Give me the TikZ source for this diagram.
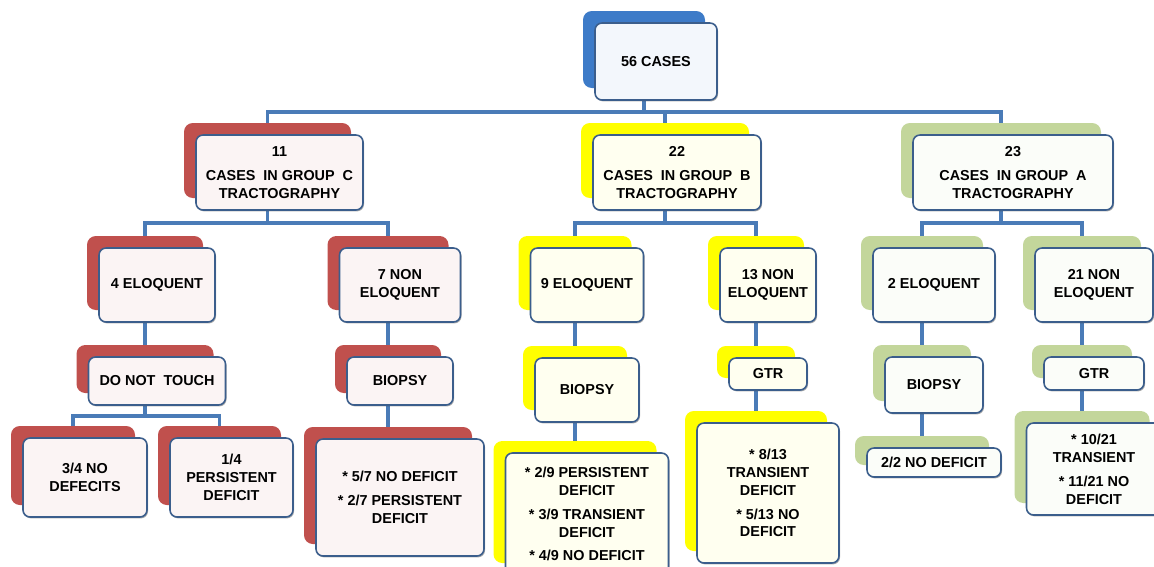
\documentclass[tikz,border=0pt]{standalone}
\usepackage{fontspec}
\setmainfont{Liberation Sans}
\usepackage{xcolor}
\usetikzlibrary{backgrounds, calc, shadows}

\definecolor{linkblue}{HTML}{4A7BB7}
\definecolor{edgeblue}{HTML}{3B5E8C}
\definecolor{grpred}{HTML}{C0504D}
\definecolor{grpyellow}{HTML}{FFFF00}
\definecolor{grpgreen}{HTML}{C3D69B}
\definecolor{grpblue}{HTML}{3D7BC8}

% coloured card behind + white card in front (sizes in px of the chart)
\newcommand{\card}[7]{%
  \node[backcard, fill=#6, minimum width=#4*0.02cm, minimum height=#5*0.02cm] (#1-b) at (#2-12,#3-12) {};
  \node[frontcard, fill=#6!6!white, minimum width=#4*0.02cm, minimum height=#5*0.02cm] (#1) at (#2,#3) {#7};
}

\begin{document}
\begin{tikzpicture}[
    x=0.02cm, y=-0.02cm,
    backcard/.style={rectangle, rounded corners=5pt, draw=none, inner sep=0pt},
    frontcard/.style={rectangle, rounded corners=4pt, draw=edgeblue, line width=0.9pt,
                      align=center, inner sep=1pt,
                      font=\fontsize{8.2}{10.2}\selectfont\bfseries,
                      drop shadow={shadow xshift=0.6pt, shadow yshift=-0.8pt, opacity=0.45, fill=black!70}},
    link/.style={line width=2.2pt, draw=linkblue}
]
\clip (0,0) rectangle (1154,566);

% top
\card{root}{656}{61.5}{122}{77}{grpblue}{56 CASES}

% groups
\card{c}{279.5}{172.5}{167}{75}{grpred}{11\\[3.4pt]CASES\ \ IN GROUP\ \ C\\TRACTOGRAPHY}
\card{b}{677}{172.5}{168}{75}{grpyellow}{22\\[3.4pt]CASES\ \ IN GROUP\ \ B\\TRACTOGRAPHY}
\card{a}{1013}{172.5}{200}{75}{grpgreen}{23\\[3.4pt]CASES\ \ IN GROUP\ \ A\\TRACTOGRAPHY}

% location
\card{c4}{157}{285}{116}{74}{grpred}{4 ELOQUENT}
\card{c7}{400}{285}{121}{74}{grpred}{7 NON\\ELOQUENT}
\card{b9}{587}{285}{113}{74}{grpyellow}{9 ELOQUENT}
\card{b13}{768}{285}{96}{74}{grpyellow}{13 NON\\ELOQUENT}
\card{a2}{934}{285}{122}{74}{grpgreen}{2 ELOQUENT}
\card{a21}{1094}{285}{118}{74}{grpgreen}{21 NON\\ELOQUENT}

% treatment
\card{c4t}{157}{381}{137}{48}{grpred}{DO NOT\ \ TOUCH}
\card{c7bi}{400}{381}{106}{48}{grpred}{BIOPSY}
\card{b9bi}{587}{390}{104}{64}{grpyellow}{BIOPSY}
\card{b13g}{768}{374}{78}{32}{grpyellow}{GTR}
\card{a2bi}{934}{385}{98}{56}{grpgreen}{BIOPSY}
\card{a21g}{1094}{373.5}{100}{33}{grpgreen}{GTR}

% outcome
\card{c4n}{85}{477.5}{124}{79}{grpred}{3/4 NO\\DEFECITS}
\card{c4p}{231.5}{477.5}{123}{79}{grpred}{1/4\\PERSISTENT\\DEFICIT}
\card{c7r}{400}{497.5}{168}{117}{grpred}{* 5/7 NO DEFICIT\\[3.4pt]* 2/7 PERSISTENT\\DEFICIT}
\card{b9r}{587}{514}{163}{122}{grpyellow}{* 2/9 PERSISTENT\\DEFICIT\\[3.4pt]* 3/9 TRANSIENT\\DEFICIT\\[3.4pt]* 4/9 NO DEFICIT}
\card{b13r}{768}{493}{142}{140}{grpyellow}{* 8/13\\TRANSIENT\\DEFICIT\\[3.4pt]* 5/13 NO\\DEFICIT}
\card{a2r}{934}{462.5}{134}{29}{grpgreen}{2/2 NO DEFICIT}
\card{a21r}{1094}{469}{135}{92}{grpgreen}{* 10/21\\TRANSIENT\\[3.4pt]* 11/21 NO\\DEFICIT}

% connectors
\begin{scope}[on background layer]
\foreach \p/\c in {root/c, root/b, root/a, c/c4, c/c7, b/b9, b/b13, a/a2, a/a21,
                   c4/c4t, c4t/c4n, c4t/c4p, c7/c7bi, c7bi/c7r, b9/b9bi, b9bi/b9r,
                   b13/b13g, b13g/b13r, a2/a2bi, a2bi/a2r, a21/a21g, a21g/a21r}{
  \coordinate (m) at ($(\p.south)!.5!(\c-b.north)$);
  \draw[link] (\p-b.center) -- (\p-b.center |- m) -| (\c-b.center);
}
\end{scope}
\end{tikzpicture}
\end{document}
